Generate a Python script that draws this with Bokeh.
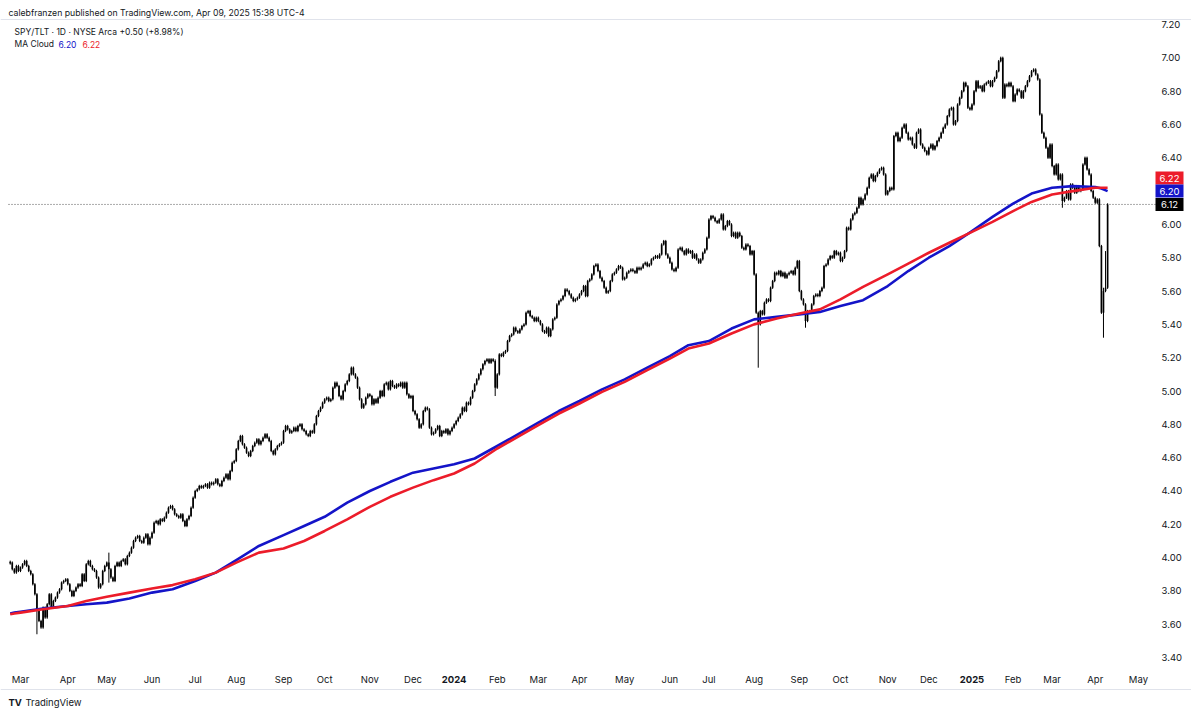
import pandas as pd
from bokeh.plotting import figure
from bokeh.models import ColumnDataSource, Range1d
from bokeh.core.properties import value
from bokeh.embed import file_html
from bokeh.resources import INLINE

# ---------------- data (daily SPY/TLT closes) ----------------
feb23 = [3.97, 3.93, 3.91, 3.95, 3.92]
mar23 = [3.94, 3.96, 3.98, 3.95, 3.92, 3.90, 3.84, 3.78, 3.68, 3.62, 3.58, 3.70, 3.64,
         3.72, 3.78, 3.70, 3.74, 3.76, 3.79, 3.81, 3.85, 3.86, 3.87]
apr23 = [3.84, 3.80, 3.77, 3.80, 3.82, 3.84, 3.83, 3.90, 3.86, 3.96, 3.98, 3.95, 3.93,
         3.92, 3.88, 3.82, 3.84, 3.92, 3.95]
may23 = [3.97, 3.93, 3.88, 3.86, 3.95, 3.97, 3.95, 3.98, 3.99, 3.96, 4.01, 4.03, 4.06,
         4.10, 4.12, 4.13, 4.10, 4.09, 4.12, 4.14, 4.08, 4.12]
jun23 = [4.15, 4.21, 4.22, 4.20, 4.23, 4.22, 4.24, 4.27, 4.30, 4.31, 4.29, 4.26, 4.25,
         4.24, 4.26, 4.22, 4.19, 4.23, 4.25, 4.30, 4.36]
jul23 = [4.40, 4.41, 4.43, 4.42, 4.43, 4.44, 4.42, 4.45, 4.44, 4.45, 4.47, 4.44, 4.43,
         4.46, 4.48, 4.50, 4.47, 4.52, 4.57, 4.58]
aug23 = [4.65, 4.70, 4.73, 4.68, 4.66, 4.63, 4.61, 4.64, 4.67, 4.69, 4.71, 4.68, 4.70,
         4.72, 4.74, 4.72, 4.70, 4.64, 4.62, 4.65, 4.67, 4.68, 4.69]
sep23 = [4.76, 4.79, 4.77, 4.75, 4.76, 4.78, 4.76, 4.79, 4.80, 4.77, 4.76, 4.74, 4.73,
         4.76, 4.75, 4.80, 4.85, 4.88, 4.90, 4.93]
oct23 = [4.95, 4.96, 4.94, 4.95, 5.02, 5.05, 5.03, 4.97, 4.95, 5.00, 5.04, 5.06, 5.10,
         5.14, 5.10, 5.08, 5.02, 4.95, 4.90, 4.92, 4.96, 4.98]
nov23 = [4.97, 4.92, 4.95, 4.93, 4.96, 5.00, 4.97, 5.04, 5.05, 5.01, 5.06, 5.03, 5.02,
         5.04, 5.03, 5.05, 5.02, 5.05, 4.98, 4.96, 4.97]
dec23 = [4.88, 4.86, 4.83, 4.78, 4.80, 4.88, 4.90, 4.89, 4.78, 4.74, 4.75, 4.77, 4.79,
         4.73, 4.76, 4.75, 4.77, 4.74, 4.76, 4.78]
jan24 = [4.80, 4.82, 4.84, 4.86, 4.90, 4.88, 4.93, 4.92, 4.96, 5.00, 5.04, 5.07, 5.10,
         5.13, 5.16, 5.18, 5.19, 5.17, 5.19, 5.18, 5.02]
feb24 = [5.10, 5.22, 5.21, 5.23, 5.24, 5.30, 5.33, 5.34, 5.38, 5.36, 5.35, 5.37, 5.39,
         5.40, 5.47, 5.48, 5.45, 5.44, 5.42, 5.44]
mar24 = [5.42, 5.40, 5.36, 5.35, 5.38, 5.33, 5.37, 5.43, 5.44, 5.52, 5.54, 5.55, 5.57,
         5.61, 5.60, 5.58, 5.56, 5.54, 5.55, 5.56]
apr24 = [5.58, 5.60, 5.63, 5.57, 5.66, 5.67, 5.70, 5.75, 5.76, 5.72, 5.68, 5.66, 5.62,
         5.59, 5.60, 5.66, 5.70, 5.71, 5.73, 5.75, 5.74, 5.67]
may24 = [5.68, 5.71, 5.72, 5.73, 5.72, 5.71, 5.74, 5.73, 5.74, 5.76, 5.77, 5.75, 5.76,
         5.79, 5.80, 5.81, 5.80, 5.82, 5.88, 5.90, 5.82, 5.80]
jun24 = [5.77, 5.73, 5.72, 5.74, 5.85, 5.86, 5.84, 5.82, 5.85, 5.83, 5.84, 5.80, 5.82,
         5.79, 5.77, 5.79, 5.83, 5.85, 5.92]
jul24 = [6.03, 6.05, 6.04, 6.02, 6.01, 6.03, 6.06, 5.97, 5.99, 6.02, 6.00, 5.93, 5.95,
         5.92, 5.95, 5.93, 5.86, 5.85, 5.88, 5.87, 5.82, 5.84]
aug24 = [5.70, 5.47, 5.40, 5.48, 5.46, 5.53, 5.55, 5.54, 5.62, 5.66, 5.71, 5.70, 5.72,
         5.69, 5.71, 5.68, 5.70, 5.71, 5.72, 5.70, 5.74, 5.78]
sep24 = [5.60, 5.55, 5.52, 5.42, 5.48, 5.47, 5.52, 5.57, 5.58, 5.57, 5.60, 5.62, 5.75,
         5.76, 5.79, 5.81, 5.80, 5.84, 5.82, 5.83]
oct24 = [5.78, 5.80, 5.84, 5.98, 5.97, 6.03, 6.06, 6.07, 6.10, 6.16, 6.12, 6.15, 6.18,
         6.22, 6.28, 6.30, 6.26, 6.29, 6.31, 6.33, 6.34, 6.30, 6.18]
nov24 = [6.20, 6.22, 6.21, 6.53, 6.55, 6.50, 6.52, 6.58, 6.60, 6.55, 6.51, 6.52, 6.48,
         6.46, 6.55, 6.57, 6.48, 6.46, 6.44, 6.42]
dec24 = [6.46, 6.48, 6.45, 6.47, 6.50, 6.52, 6.55, 6.58, 6.60, 6.65, 6.69, 6.70, 6.60,
         6.62, 6.72, 6.76, 6.80, 6.85, 6.83, 6.70, 6.69]
jan25 = [6.72, 6.80, 6.86, 6.82, 6.83, 6.80, 6.84, 6.85, 6.86, 6.83, 6.86, 6.88, 6.92,
         6.98, 7.00, 6.76, 6.84, 6.83, 6.85, 6.83]
feb25 = [6.74, 6.78, 6.81, 6.80, 6.76, 6.80, 6.83, 6.86, 6.89, 6.92, 6.93, 6.90, 6.87,
         6.66, 6.55, 6.52, 6.46, 6.40, 6.48]
mar25 = [6.35, 6.30, 6.36, 6.27, 6.30, 6.14, 6.16, 6.20, 6.15, 6.24, 6.22, 6.19, 6.23,
         6.20, 6.21, 6.36, 6.40, 6.33, 6.30, 6.20, 6.16]
apr25 = [6.13, 6.15, 5.87, 5.47, 5.60, 5.62, 6.12]

month_groups = [feb23, mar23, apr23, may23, jun23, jul23, aug23, sep23, oct23, nov23,
                dec23, jan24, feb24, mar24, apr24, may24, jun24, jul24, aug24, sep24,
                oct24, nov24, dec24, jan25, feb25, mar25, apr25]

# days with a long intraday wick
spike_dates = ["2023-03-13", "2023-05-02", "2024-01-31", "2024-08-05", "2024-09-06",
               "2025-03-10", "2025-04-07", "2025-04-08"]
spike_lo = [3.54, 3.85, 4.97, 5.14, 5.38, 6.10, 5.32, 5.60]
spike_hi = [3.70, 4.03, 5.19, 5.47, 5.50, 6.24, 5.62, 5.84]

# MA Cloud: values at the first and middle trading day of each month, then last bar
blue_ma = [3.665, 3.67, 3.675, 3.695, 3.71, 3.72, 3.73, 3.755, 3.79, 3.81,
           3.86, 3.91, 3.985, 4.07, 4.135, 4.19, 4.245, 4.33, 4.40, 4.455,
           4.51, 4.535, 4.56, 4.595, 4.67, 4.74, 4.81, 4.88, 4.94, 5.01,
           5.07, 5.14, 5.21, 5.275, 5.30, 5.375, 5.43, 5.445, 5.46, 5.475,
           5.51, 5.545, 5.63, 5.72, 5.80, 5.87, 5.96, 6.045, 6.125, 6.185,
           6.22, 6.23, 6.225, 6.215, 6.20]
red_ma = [3.66, 3.665, 3.67, 3.69, 3.71, 3.74, 3.765, 3.79, 3.815, 3.835,
          3.87, 3.91, 3.97, 4.03, 4.055, 4.10, 4.16, 4.23, 4.305, 4.365,
          4.42, 4.465, 4.505, 4.565, 4.655, 4.725, 4.795, 4.865, 4.925, 4.995,
          5.055, 5.125, 5.195, 5.255, 5.285, 5.345, 5.40, 5.435, 5.465, 5.49,
          5.55, 5.625, 5.70, 5.765, 5.83, 5.89, 5.955, 6.015, 6.08, 6.135,
          6.18, 6.20, 6.22, 6.22, 6.22]

price_ticks = [3.40, 3.60, 3.80, 4.00, 4.20, 4.40, 4.60, 4.80, 5.00, 5.20, 5.40, 5.60,
               5.80, 6.00, 6.20, 6.40, 6.60, 6.80, 7.00, 7.20]
month_names = ["Jan", "Feb", "Mar", "Apr", "May", "Jun", "Jul", "Aug", "Sep", "Oct",
               "Nov", "Dec"]
holidays = ["2023-04-07", "2023-05-29", "2023-06-19", "2023-07-04", "2023-09-04",
            "2023-11-23", "2023-12-25", "2024-01-01", "2024-01-15", "2024-02-19",
            "2024-03-29", "2024-05-27", "2024-06-19", "2024-07-04", "2024-09-02",
            "2024-11-28", "2024-12-25", "2025-01-01", "2025-01-09", "2025-01-20",
            "2025-02-17", "2025-04-18", "2025-05-26"]

# ---------------- build ----------------
closes = [c for g in month_groups for c in g]
n = len(closes)
all_days = pd.bdate_range("2023-02-22", "2025-05-30", freq="C", holidays=holidays)
days = all_days[:n]

# layout: screen pixels -> data coordinates
W, H = 1191, 712
x_left, x_right = -4.73, 574.83
y_bot, y_top = 3.0704, 7.344
ppx = W / (x_right - x_left)
ppy = H / (y_top - y_bot)
FONT = value("Inter")
INK = "#131722"


def idx_at(px):
    return x_left + px / ppx


def price_at(py):
    return y_top - py / ppy


opens = [closes[0]] + closes[:-1]
body_top, body_bot = [], []
for o, c in zip(opens, closes):
    t, b = max(o, c), min(o, c)
    if t - b < 0.01:
        m = (t + b) / 2
        t, b = m + 0.005, m - 0.005
    body_top.append(t)
    body_bot.append(b)
wick_hi = [t + 0.007 for t in body_top]
wick_lo = [b - 0.007 for b in body_bot]
for d, lo, hi in zip(spike_dates, spike_lo, spike_hi):
    i = days.get_loc(pd.Timestamp(d))
    wick_lo[i] = min(wick_lo[i], lo)
    wick_hi[i] = max(wick_hi[i], hi)

bars = ColumnDataSource(dict(x=list(range(n)), top=body_top, bot=body_bot,
                             hi=wick_hi, lo=wick_lo))

ma_x = []
s = 0
for g in month_groups:
    ma_x += [s, s + len(g) // 2]
    s += len(g)
ma_x.append(n - 1)

p = figure(width=W, height=H, output_backend="svg", toolbar_location=None, tools="",
           x_range=Range1d(x_left, x_right), y_range=Range1d(y_bot, y_top),
           x_axis_location=None, y_axis_location=None,
           min_border_left=0, min_border_top=0, min_border_bottom=0, min_border_right=0,
           background_fill_color="white", border_fill_color="white",
           outline_line_color=None)
p.grid.visible = False

# frame decorations
p.segment(x0=[idx_at(0)] * 2, x1=[idx_at(W)] * 2, y0=[price_at(19), price_at(689)],
          y1=[price_at(19), price_at(689)], line_color="#e0e3eb", line_width=1)
p.segment(x0=[idx_at(8)], x1=[idx_at(1155)], y0=[closes[-1]], y1=[closes[-1]],
          line_color="#555555", line_dash="1 2", line_width=1)

# price bars
p.segment(x0="x", y0="lo", x1="x", y1="hi", source=bars, line_color="black",
          line_width=1)
p.vbar(x="x", top="top", bottom="bot", width=0.8, source=bars, fill_color="black",
       line_color=None)

# MA cloud
p.line(ma_x, blue_ma, line_color="#1414c8", line_width=2.6, line_join="round")
p.line(ma_x, red_ma, line_color="#ec1c2a", line_width=2.6, line_join="round")

# price scale (right)
p.text(x=[idx_at(1161)] * len(price_ticks), y=price_ticks,
       text=[f"{t:.2f}" for t in price_ticks], text_font=FONT,
       text_font_size=value("9.5px"), text_color=INK, text_align="left",
       text_baseline="middle")

# time scale labels
tick_x, tick_lab, year_x, year_lab = [], [], [], []
for i in range(1, len(all_days)):
    d, prev = all_days[i], all_days[i - 1]
    if d.month != prev.month and i < idx_at(1150):
        if d.month == 1:
            year_x.append(i)
            year_lab.append(str(d.year))
        else:
            tick_x.append(i)
            tick_lab.append(month_names[d.month - 1])
p.text(x=tick_x, y=[price_at(679)] * len(tick_x), text=tick_lab,
       text_font=FONT, text_font_size=value("9.5px"), text_color=INK,
       text_align="center", text_baseline="middle")
p.text(x=year_x, y=[price_at(679)] * len(year_x), text=year_lab,
       text_font=FONT, text_font_size=value("9.5px"), text_font_style="bold",
       text_color=INK, text_align="center", text_baseline="middle")


def put(px, py, s, color=INK, size="8.5px", style="normal", align="left"):
    p.text(x=[idx_at(px)], y=[price_at(py)], text=[s], text_font=FONT,
           text_font_size=value(size), text_font_style=style, text_color=color,
           text_align=align, text_baseline="middle")


put(8, 12, "calebfranzen published on TradingView.com, Apr 09, 2025 15:38 UTC-4",
    size="8.7px")
put(14, 31.5, "SPY/TLT · 1D · NYSE Arca  +0.50 (+8.98%)")
put(14, 43.5, "MA Cloud")
put(58, 43.5, f"{blue_ma[-1]:.2f}", color="#1414c8")
put(82, 43.5, f"{red_ma[-1]:.2f}", color="#ec1c2a")
put(8, 702, "TV", size="9.5px", style="bold")
put(25, 702, "TradingView", size="9.5px")

# last-value labels on the price scale
box_h = 13 / ppy
black_y = closes[-1]
blue_y = max(blue_ma[-1], black_y + box_h)
red_y = max(red_ma[-1], blue_y + box_h)
box_y = [red_y, blue_y, black_y]
box_txt = [f"{red_ma[-1]:.2f}", f"{blue_ma[-1]:.2f}", f"{closes[-1]:.2f}"]
box_col = ["#ec1c2a", "#1414c8", "#000000"]
p.rect(x=[idx_at(1169)] * 3, y=box_y, width=28 / ppx, height=box_h,
       fill_color=box_col, line_color=None)
p.text(x=[idx_at(1169)] * 3, y=box_y, text=box_txt, text_font=FONT,
       text_font_size=value("9.5px"), text_color="white", text_align="center",
       text_baseline="middle")

open("out.html", "w").write(file_html(p, INLINE))
